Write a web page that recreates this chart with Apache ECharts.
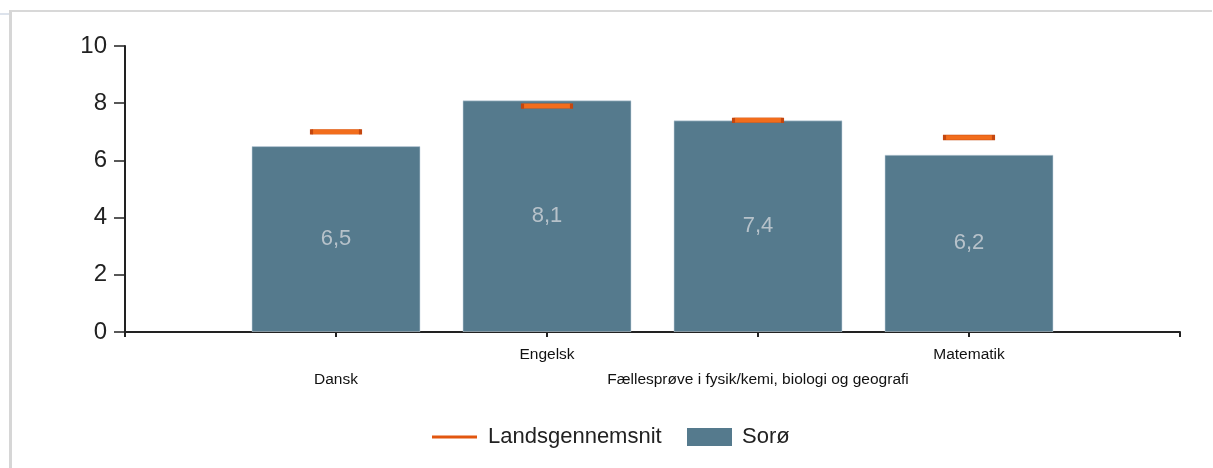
<!DOCTYPE html>
<html>
<head>
<meta charset="utf-8">
<script src="https://cdn.jsdelivr.net/npm/echarts@6/dist/echarts.min.js"></script>
<style>
  html, body { margin: 0; padding: 0; background: #ffffff; }
  #frame {
    position: absolute; left: 9px; top: 10px; width: 1203px; height: 470px;
    border-top: 2px solid #d8d8d8; border-left: 3px solid #d6d6d6;
    box-sizing: border-box; background: #ffffff;
  }
  #tab { position: absolute; left: 0; top: 13px; width: 9px; height: 2px; background: #dde3ec; }
  #chart { position: absolute; left: 0; top: 0; width: 1213px; height: 468px; }
</style>
</head>
<body>
<div id="tab"></div>
<div id="frame"></div>
<div id="chart"></div>
<script>
// Subjects (with empty slots at both ends of the axis)
const categories = ['', 'Dansk', 'Engelsk', 'Fællesprøve i fysik/kemi, biologi og geografi', 'Matematik', ''];
// Average grade for Sorø
const soroValues = ['-', 6.5, 8.1, 7.4, 6.2, '-'];
// National average
const nationalValues = ['-', 7.0, 7.9, 7.4, 6.8, '-'];
const yTicks = { min: 0, max: 10, interval: 2 };

const chart = echarts.init(document.getElementById('chart'), null, { renderer: 'canvas' });

const axisColor = '#222222';
const labelFont = 'Arial, "Liberation Sans", sans-serif';

chart.setOption({
  backgroundColor: 'transparent',
  animation: false,
  grid: { left: 125, right: 33, top: 46, bottom: 136 },
  xAxis: {
    type: 'category',
    data: categories,
    boundaryGap: false,
    axisLine: { lineStyle: { color: axisColor, width: 2 } },
    axisTick: { show: true, length: 5, lineStyle: { color: axisColor, width: 2 } },
    axisLabel: {
      interval: 0,
      margin: 10,
      fontFamily: labelFont,
      fontSize: 15.5,
      lineHeight: 25,
      color: '#111111',
      formatter: function (value, index) {
        if (!value) return '';
        return index % 2 === 1 ? '\n' + value : value;
      }
    },
    splitLine: { show: false }
  },
  yAxis: {
    type: 'value',
    min: yTicks.min,
    max: yTicks.max,
    interval: yTicks.interval,
    axisLine: { show: true, lineStyle: { color: axisColor, width: 2 } },
    axisTick: { show: true, length: 11, lineStyle: { color: axisColor, width: 1.5 } },
    axisLabel: { fontFamily: labelFont, fontSize: 24, color: '#222222', margin: 18 },
    splitLine: { show: false }
  },
  legend: [
    {
      data: [{ name: 'Landsgennemsnit', icon: 'rect', itemStyle: { borderWidth: 0, color: '#e2560f' } }],
      left: 432, top: 426, padding: 0,
      itemWidth: 45, itemHeight: 3,
      selectedMode: false,
      textStyle: { fontFamily: labelFont, fontSize: 22, color: '#222222', padding: [0, 0, 0, 6] }
    },
    {
      data: [{ name: 'Sorø', icon: 'rect', itemStyle: { borderWidth: 0 } }],
      left: 687, top: 426, padding: 0,
      itemWidth: 45, itemHeight: 18,
      selectedMode: false,
      textStyle: { fontFamily: labelFont, fontSize: 22, color: '#222222', padding: [0, 0, 0, 5] }
    }
  ],
  series: [
    {
      name: 'Sorø',
      type: 'bar',
      data: soroValues,
      barWidth: 169,
      itemStyle: { color: '#557a8d', borderColor: 'rgba(200,215,225,0.55)', borderWidth: 1 },
      label: {
        show: true,
        position: 'inside',
        fontFamily: labelFont,
        fontSize: 22,
        color: '#b7c2ca',
        formatter: function (p) { return String(p.value).replace('.', ','); }
      },
      z: 2
    },
    {
      name: 'Landsgennemsnit',
      type: 'scatter',
      data: nationalValues,
      symbol: 'rect',
      symbolSize: [49, 5],
      itemStyle: { color: '#f26d1c', borderColor: '#c4470f', borderWidth: 1, opacity: 1 },
      z: 5
    }
  ]
});
</script>
</body>
</html>
